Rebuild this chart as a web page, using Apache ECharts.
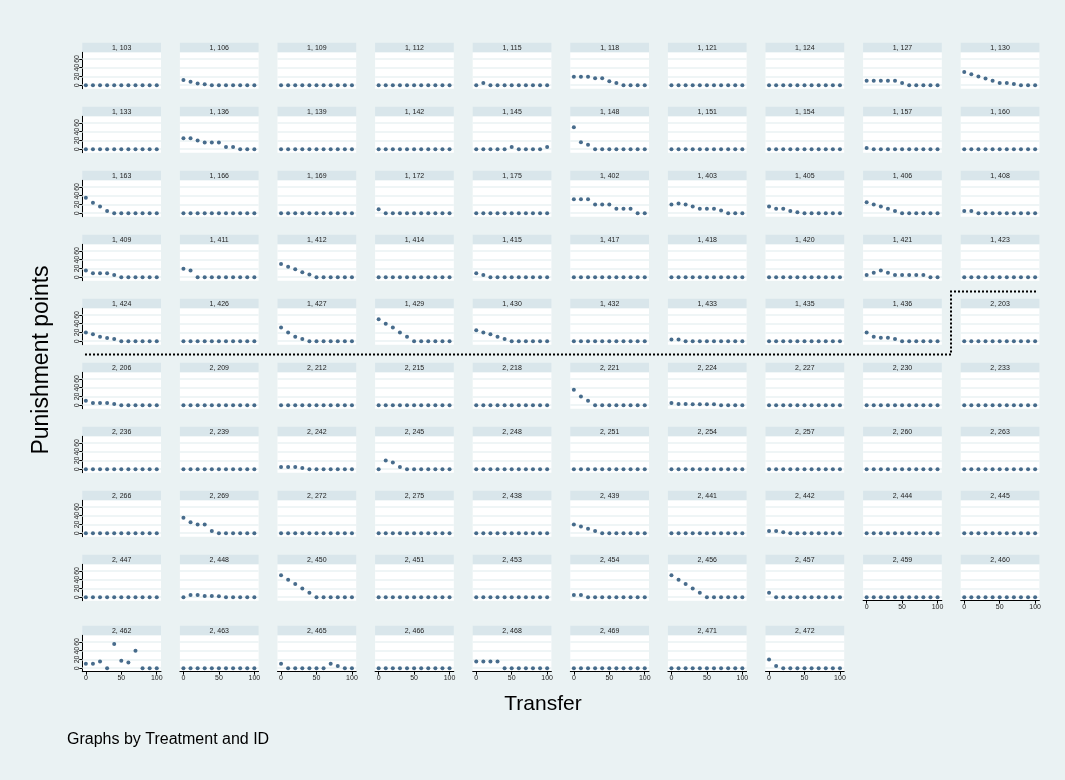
<!DOCTYPE html>
<html><head><meta charset="utf-8">
<script src="https://cdn.jsdelivr.net/npm/echarts@6/dist/echarts.min.js"></script>
<style>html,body{margin:0;padding:0;background:#eaf2f3}#c{width:1065px;height:780px}</style>
</head><body><div id="c"></div>
<script>
// ---- data ----
const transfers = [0,10,20,30,40,50,60,70,80,90,100];
const xTickValues = [0,50,100];
const yTickValues = [0,20,40,60];
const Z = [0,0,0,0,0,0,0,0,0,0,0];

const row1Labels = ['1, 103','1, 106','1, 109','1, 112','1, 115','1, 118','1, 121','1, 124','1, 127','1, 130'];
const row1Values = [Z,[12,8,4,2,0,0,0,0,0,0,0],Z,Z,[0,5,0,0,0,0,0,0,0,0,0],[19,19,19,16,16,9,5,0,0,0,0],Z,Z,[10,10,10,10,10,5,0,0,0,0,0],[30,25,20,15,10,5,5,3,0,0,0]];

const row2Labels = ['1, 133','1, 136','1, 139','1, 142','1, 145','1, 148','1, 151','1, 154','1, 157','1, 160'];
const row2Values = [Z,[25,25,20,15,15,15,5,5,0,0,0],Z,Z,[0,0,0,0,0,5,0,0,0,0,5],[50,16,10,0,0,0,0,0,0,0,0],Z,Z,[3,0,0,0,0,0,0,0,0,0,0],Z];

const row3Labels = ['1, 163','1, 166','1, 169','1, 172','1, 175','1, 402','1, 403','1, 405','1, 406','1, 408'];
const row3Values = [[35,24,15,5,0,0,0,0,0,0,0],Z,Z,[9,0,0,0,0,0,0,0,0,0,0],Z,[32,32,32,20,20,20,10,10,10,0,0],[20,22,20,15,10,10,10,6,0,0,0],[15,10,10,5,2,0,0,0,0,0,0],[25,20,15,10,5,0,0,0,0,0,0],[5,5,0,0,0,0,0,0,0,0,0]];

const row4Labels = ['1, 409','1, 411','1, 412','1, 414','1, 415','1, 417','1, 418','1, 420','1, 421','1, 423'];
const row4Values = [[15,9,9,9,5,0,0,0,0,0,0],[19,15,0,0,0,0,0,0,0,0,0],[30,24,18,11,6,0,0,0,0,0,0],Z,[9,5,0,0,0,0,0,0,0,0,0],Z,Z,Z,[5,10,15,10,5,5,5,5,5,0,0],Z];

const row5Labels = ['1, 424','1, 426','1, 427','1, 429','1, 430','1, 432','1, 433','1, 435','1, 436','2, 203'];
const row5Values = [[20,16,10,7,5,0,0,0,0,0,0],Z,[31,20,10,5,0,0,0,0,0,0,0],[50,40,31,20,10,0,0,0,0,0,0],[25,20,16,10,5,0,0,0,0,0,0],Z,[4,4,0,0,0,0,0,0,0,0,0],Z,[20,10,8,8,5,0,0,0,0,0,0],Z];

const row6Labels = ['2, 206','2, 209','2, 212','2, 215','2, 218','2, 221','2, 224','2, 227','2, 230','2, 233'];
const row6Values = [[10,5,5,5,3,0,0,0,0,0,0],Z,Z,Z,Z,[35,20,10,0,0,0,0,0,0,0,0],[5,3,3,2,2,2,2,0,0,0,0],Z,Z,Z];

const row7Labels = ['2, 236','2, 239','2, 242','2, 245','2, 248','2, 251','2, 254','2, 257','2, 260','2, 263'];
const row7Values = [Z,Z,[5,5,5,3,0,0,0,0,0,0,0],[0,20,15,5,0,0,0,0,0,0,0],Z,Z,Z,Z,Z,Z];

const row8Labels = ['2, 266','2, 269','2, 272','2, 275','2, 438','2, 439','2, 441','2, 442','2, 444','2, 445'];
const row8Values = [Z,[35,25,20,20,5,0,0,0,0,0,0],Z,Z,Z,[20,15,10,5,0,0,0,0,0,0,0],Z,[5,5,2,0,0,0,0,0,0,0,0],Z,Z];

const row9Labels = ['2, 447','2, 448','2, 450','2, 451','2, 453','2, 454','2, 456','2, 457','2, 459','2, 460'];
const row9Values = [Z,[0,5,5,3,3,2,0,0,0,0,0],[50,40,30,20,10,0,0,0,0,0,0],Z,Z,[5,5,0,0,0,0,0,0,0,0,0],[50,40,30,20,10,0,0,0,0,0,0],[10,0,0,0,0,0,0,0,0,0,0],Z,Z];

const row10Labels = ['2, 462','2, 463','2, 465','2, 466','2, 468','2, 469','2, 471','2, 472'];
const row10Values = [[10,10,15,0,55,17,13,40,0,0,0],Z,[10,0,0,0,0,0,0,10,5,0,0],Z,[15,15,15,15,0,0,0,0,0,0,0],Z,Z,[20,5,0,0,0,0,0,0,0,0,0]];

const rowLabels = [row1Labels,row2Labels,row3Labels,row4Labels,row5Labels,row6Labels,row7Labels,row8Labels,row9Labels,row10Labels];
const rowValues = [row1Values,row2Values,row3Values,row4Values,row5Values,row6Values,row7Values,row8Values,row9Values,row10Values];

// ---- layout / style ----
const L0 = 82.3, DX = 97.6, PW = 78.7;
const T0 = 42.7, DY = 64, HB = 9.6, PH = 36.4, EXTRA_LAST = 7;
const BG = '#eaf2f3', BAR = '#d9e6eb', NAVY = '#1a476f';
const FONT = '"Liberation Sans", Arial, Helvetica, sans-serif';

const grids = [], xAxes = [], yAxes = [], series = [], graphics = [];
let idx = 0;
rowLabels.forEach((labels, r) => {
  const nRows = rowLabels.length;
  labels.forEach((lab, c) => {
    const top = T0 + r * DY + (r === nRows - 1 ? EXTRA_LAST : 0);
    const left = L0 + c * DX;
    const below = rowLabels[r + 1] && rowLabels[r + 1].length > c;
    const showX = !below;
    const showY = c === 0;
    grids.push({left: left, top: top + HB, width: PW, height: PH, show: true, backgroundColor: '#ffffff', borderWidth: 0});
    xAxes.push({
      type: 'value', gridIndex: idx, min: -5, max: 106,
      axisLine: {show: showX, onZero: false, lineStyle: {color: '#000', width: 1}},
      axisTick: {show: showX, length: 3, customValues: xTickValues, lineStyle: {color: '#000'}},
      axisLabel: {show: showX, customValues: xTickValues, fontSize: 7, color: '#222', margin: 3, fontFamily: FONT},
      splitLine: {show: false}
    });
    yAxes.push({
      type: 'value', gridIndex: idx, min: -8, max: 75,
      axisLine: {show: showY, onZero: false, lineStyle: {color: '#000', width: 1}},
      axisTick: {show: showY, length: 3, customValues: yTickValues, lineStyle: {color: '#000'}},
      axisLabel: {show: showY, customValues: yTickValues, rotate: 90, fontSize: 7, color: '#222', margin: 2, fontFamily: FONT},
      splitLine: {show: false}
    });
    series.push({
      type: 'scatter', xAxisIndex: idx, yAxisIndex: idx, symbol: 'circle', symbolSize: 4, z: 3,
      itemStyle: {color: NAVY}, silent: true,
      data: transfers.map((x, k) => [x, rowValues[r][c][k]]),
      markLine: {
        silent: true, symbol: 'none', z: 1, animation: false,
        label: {show: false},
        lineStyle: {color: BG, width: 1.5, type: 'solid'},
        data: yTickValues.map(v => ({yAxis: v}))
      }
    });
    graphics.push({type: 'rect', shape: {x: left, y: top, width: PW, height: HB}, style: {fill: BAR}, silent: true});
    graphics.push({type: 'text', x: left + PW / 2, y: top + HB / 2 + 0.3,
      style: {text: lab, fill: '#222', font: '7px ' + FONT, textAlign: 'center', textVerticalAlign: 'middle'}, silent: true});
    idx++;
  });
});

// separator between treatments (dotted step line)
graphics.push({type: 'polyline', shape: {points: [[85, 354.5], [951, 354.5], [951, 291.5], [1038, 291.5]]},
  style: {stroke: '#000', lineWidth: 2, lineDash: [2, 2], fill: null}, silent: true});

// axis titles and note
graphics.push({type: 'text', x: 42, y: 360, rotation: Math.PI / 2,
  style: {text: 'Punishment points', fill: '#000', font: '23px ' + FONT, textAlign: 'center', textVerticalAlign: 'middle'}});
graphics.push({type: 'text', x: 543, y: 704,
  style: {text: 'Transfer', fill: '#000', font: '21px ' + FONT, textAlign: 'center', textVerticalAlign: 'middle'}});
graphics.push({type: 'text', x: 67, y: 740,
  style: {text: 'Graphs by Treatment and ID', fill: '#000', font: '16px ' + FONT, textAlign: 'left', textVerticalAlign: 'middle'}});

const chart = echarts.init(document.getElementById('c'), null, {renderer: 'canvas'});
chart.setOption({
  backgroundColor: BG,
  animation: false,
  grid: grids, xAxis: xAxes, yAxis: yAxes, series: series,
  graphic: graphics
});
</script></body></html>
